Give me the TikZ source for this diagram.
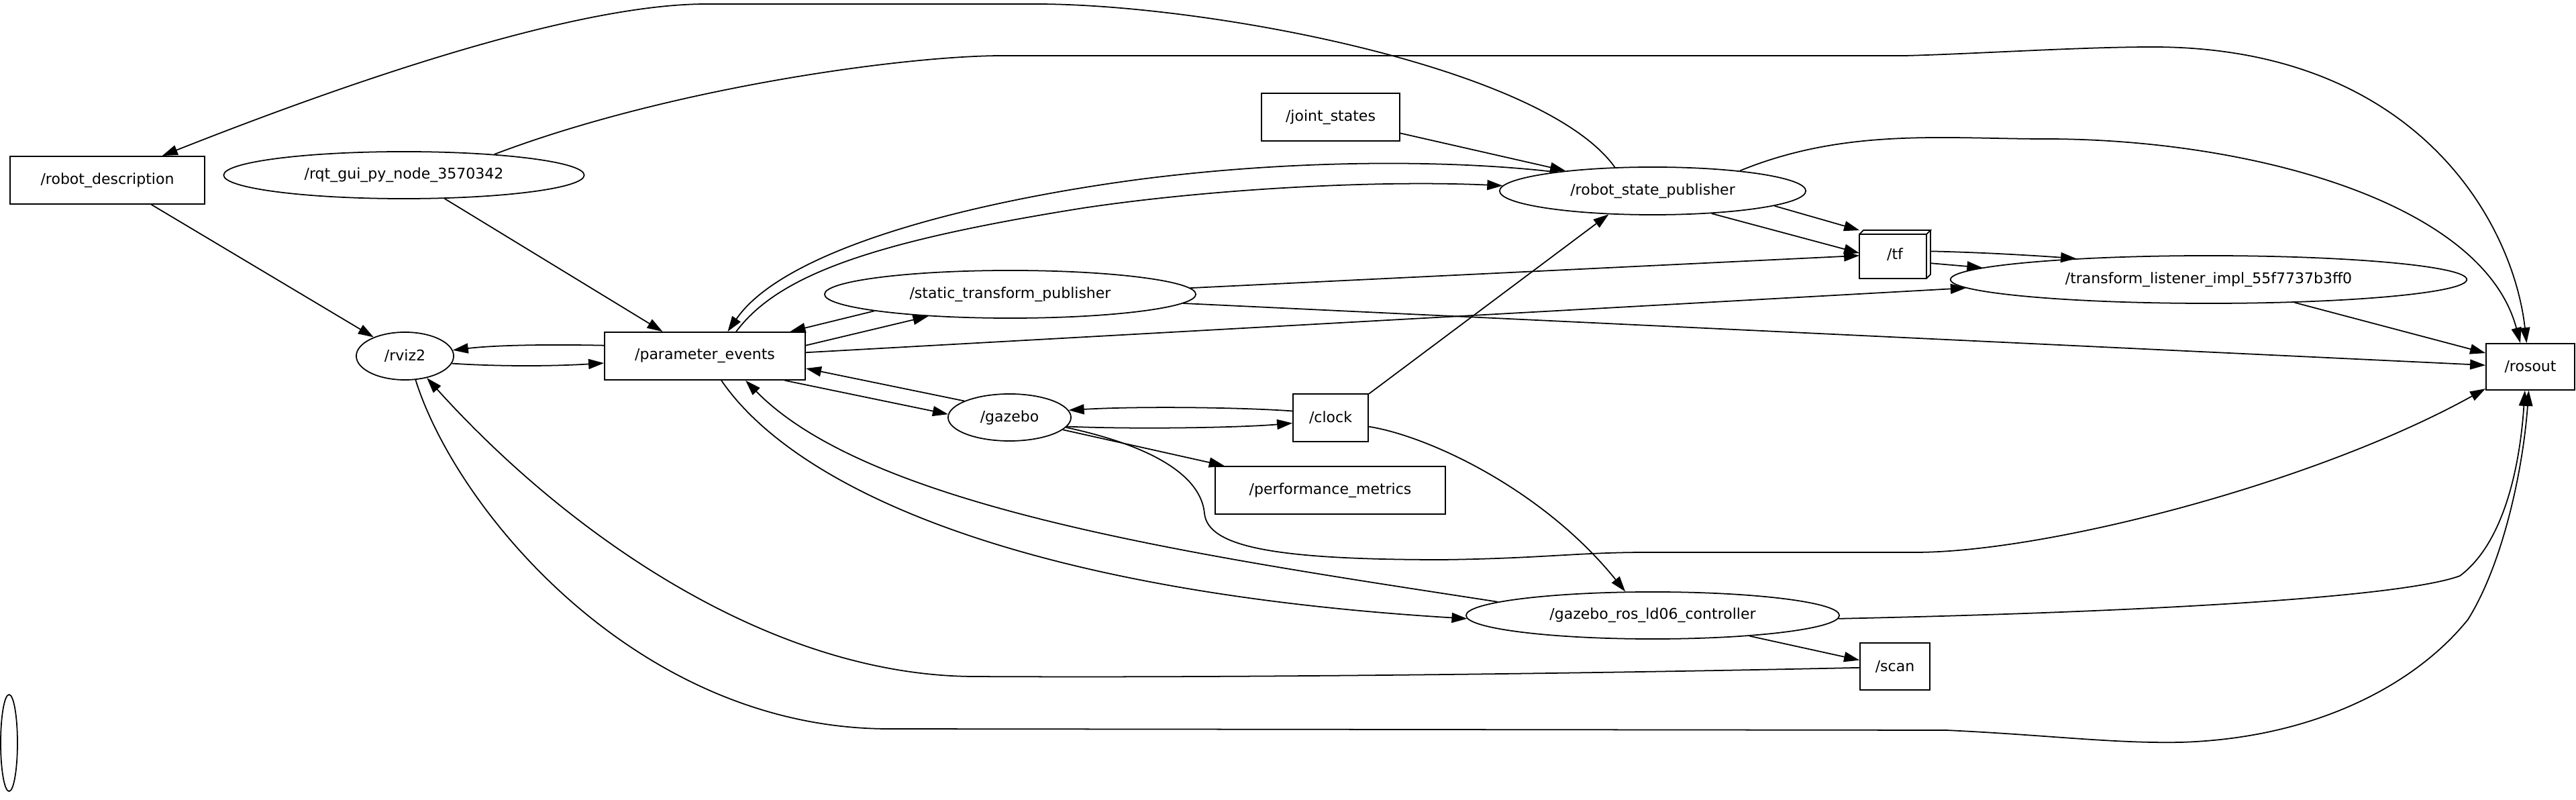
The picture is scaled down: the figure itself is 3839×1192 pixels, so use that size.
\documentclass[tikz,border=0pt]{standalone}
\usepackage{fontspec}
\setmainfont{DejaVu Sans}
\usetikzlibrary{arrows.meta,shapes.geometric,calc}
\begin{document}
\begin{tikzpicture}[x=0.01cm,y=-0.01cm,
  base/.style={draw, line width=0.5pt, inner sep=0pt, font=\fontsize{6.26pt}{7.5pt}\selectfont},
  topic/.style={base, rectangle},
  rosnode/.style={base, ellipse},
  arr/.style={line width=0.5pt, -{Triangle[length=0.23cm,width=0.15cm]}},
  boxline/.style={line width=0.5pt}
]
\useasboundingbox (0,0) rectangle (3839,1192);

% nodes
\node[topic, minimum width=2.90cm, minimum height=0.71cm] (rd) at (160,268.5) {/robot\_description};
\node[rosnode, minimum width=5.37cm, minimum height=0.70cm] (rqt) at (602,261) {/rqt\_gui\_py\_node\_3570342};
\node[rosnode, minimum width=1.45cm, minimum height=0.71cm] (rviz) at (603.5,530.5) {/rviz2};
\node[topic, minimum width=2.99cm, minimum height=0.71cm] (pe) at (1050.5,530.5) {/parameter\_events};
\node[rosnode, minimum width=5.53cm, minimum height=0.71cm] (stp) at (1505.5,438.5) {/static\_transform\_publisher};
\node[rosnode, minimum width=1.83cm, minimum height=0.70cm] (gz) at (1504.5,622) {/gazebo};
\node[topic, minimum width=1.12cm, minimum height=0.71cm] (clk) at (1983,622.5) {/clock};
\node[topic, minimum width=3.43cm, minimum height=0.71cm] (pm) at (1982.5,730.5) {/performance\_metrics};
\node[topic, minimum width=2.06cm, minimum height=0.71cm] (js) at (1983,174.5) {/joint\_states};
\node[rosnode, minimum width=4.56cm, minimum height=0.71cm] (rsp) at (2463,284.5) {/robot\_state\_publisher};
\node[topic, draw=none, minimum width=1.04cm, minimum height=0.70cm] (tf) at (2824,379) {/tf};
\node[rosnode, minimum width=7.69cm, minimum height=0.71cm] (tl) at (3291.5,416.5) {/transform\_listener\_impl\_55f7737b3ff0};
\node[topic, minimum width=1.32cm, minimum height=0.69cm] (ro) at (3771,546.5) {/rosout};
\node[rosnode, minimum width=5.56cm, minimum height=0.70cm] (gr) at (2463,917) {/gazebo\_ros\_ld06\_controller};
\node[topic, minimum width=1.04cm, minimum height=0.70cm] (sc) at (2824,993) {/scan};
\node[rosnode, minimum width=0.25cm, minimum height=1.44cm] (lone) at (13.5,1107) {};

% 3D box for /tf
\draw[boxline] (tf.south west) rectangle ($(tf.north east)+(-6,6)$);
\draw[boxline] ($(tf.north west)+(0,6)$) -- ($(tf.north west)+(6,0)$) -- (tf.north east) -- ($(tf.north east)+(-6,6)$);
\draw[boxline] (tf.north east) -- ($(tf.south east)+(0,-6)$) -- ($(tf.south east)+(-6,0)$);

% edges
\draw[arr] (rsp.148.8) .. controls (2300,100) and (1800,6) .. (1543,6) -- (1053,6) .. controls (850,6) and (500,130) .. (rd.24.8);
\draw[arr] (rqt.13.6) .. controls (1000,130) and (1350,83) .. (1494,83) -- (2840,83) .. controls (2950,80) and (3100,70) .. (3208,70) .. controls (3600,70) and (3745,330) .. (ro.99.9);
\draw[arr] (rqt.330.9) -- (pe.150.8);
\draw[arr] (rd.331) -- (rviz.149.9);
\draw[arr] (pe.174.8) .. controls (820,513) and (740,514) .. (rviz.7.5);
\draw[arr] (rviz.351.8) .. controls (740,546) and (820,546) .. (pe.184.8);
\draw[arr] (rsp.169.9) .. controls (2180,240) and (1950,235) .. (1700,267) .. controls (1450,300) and (1170,370) .. (pe.47.5);
\draw[arr] (pe.38) .. controls (1160,410) and (1300,360) .. (1614,310) .. controls (1800,282) and (2050,268) .. (rsp.178.3);
\draw[arr] (pe.6.7) -- (stp.195.6);
\draw[arr] (stp.187.8) -- (pe.16.3);
\draw[arr] (stp.2.5) -- (tf.182);
\draw[arr] (stp.357.2) -- (ro.178.7);
\draw[arr] (pe.2.9) -- (tl.182.8);
\draw[arr] (gz.160.7) -- (pe.353.3);
\draw[arr] (pe.343.2) -- (gz.177.5);
\draw[arr] (clk.170.4) .. controls (1850,607) and (1700,605) .. (gz.7.6);
\draw[arr] (gz.351.8) .. controls (1700,640) and (1850,637) .. (clk.188.6);
\draw[arr] (gz.347.5) -- (pm.167.5);
\draw[arr] (gz.350.6) .. controls (1720,665) and (1790,710) .. (1795,765) .. controls (1800,815) and (1900,834) .. (2150,834) .. controls (2300,832) and (2350,823) .. (2455,823) -- (2854,823) .. controls (3050,823) and (3450,720) .. (ro.206.9);
\draw[arr] (clk.32.4) -- (rsp.208.4);
\draw[arr] (clk.347.4) .. controls (2130,650) and (2300,730) .. (gr.139.8);
\draw[arr] (pe.304.6) .. controls (1180,720) and (1500,880) .. (gr.181.3);
\draw[arr] (gr.175.9) .. controls (1800,830) and (1300,760) .. (pe.329.2);
\draw[arr] (gr.359.6) .. controls (3200,912) and (3580,890) .. (3666,858) .. controls (3730,810) and (3755,700) .. (ro.257);
\draw[arr] (gr.348.6) -- (sc.170.2);
\draw[arr] (sc.182.2) .. controls (2300,1005) and (1800,1010) .. (1450,1008) .. controls (1150,1006) and (850,800) .. (rviz.315.7);
\draw[arr] (rviz.294.1) .. controls (680,760) and (950,1086) .. (1325,1086) -- (2900,1088) .. controls (3050,1095) and (3150,1108) .. (3250,1106) .. controls (3450,1100) and (3600,1020) .. (3678,923) .. controls (3730,840) and (3760,700) .. (ro.266.7);
\draw[arr] (rsp.353.2) -- (tf.north west);
\draw[arr] (rsp.339.6) -- (tf.178);
\draw[arr] (tf.5) .. controls (2950,376) and (3020,380) .. (tl.171.7);
\draw[arr] (tf.346) -- (tl.177.3);
\draw[arr] (js.347.1) -- (rsp.167.3);
\draw[arr] (tl.345.9) -- (ro.163.5);
\draw[arr] (rsp.13.4) .. controls (2750,190) and (2900,207) .. (3048,207) .. controls (3350,207) and (3700,300) .. (ro.113.5);
\end{tikzpicture}
\end{document}
